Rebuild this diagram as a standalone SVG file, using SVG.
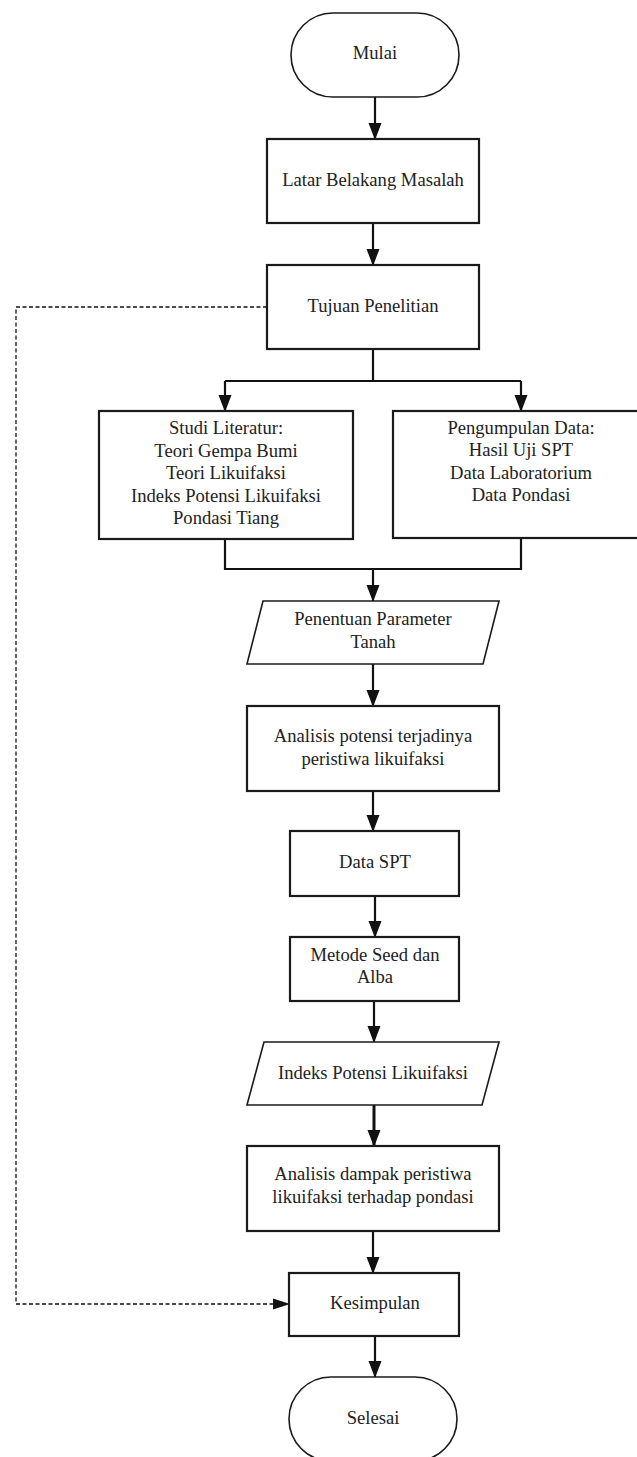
<svg xmlns="http://www.w3.org/2000/svg" width="637" height="1457" viewBox="0 0 637 1457">
<style>
.box{fill:#fff;stroke:#1a1a1a;stroke-width:2.2}
.term{fill:#fff;stroke:#1a1a1a;stroke-width:1.6}
.t{font-family:"Liberation Serif","Times New Roman",serif;font-size:18.6px;fill:#222;text-anchor:middle}
.c{fill:none;stroke:#111;stroke-width:2.2}
.d{fill:none;stroke:#111;stroke-width:1.3;stroke-dasharray:4 2.5}
</style>
<defs>
<marker id="ah" markerUnits="userSpaceOnUse" markerWidth="16" markerHeight="13" refX="16" refY="6.5" orient="auto" overflow="visible">
<path d="M0,0 L17,6.5 L0,13 z" fill="#111"/>
</marker>
<marker id="ahd" markerUnits="userSpaceOnUse" markerWidth="17" markerHeight="11" refX="16" refY="5.5" orient="auto" overflow="visible">
<path d="M0,0 L17,5.5 L0,11 z" fill="#111"/>
</marker>
</defs>
<rect width="637" height="1457" fill="#fff"/>
<g id="connectors">
<path class="c" d="M375,97 V139" marker-end="url(#ah)"/>
<path class="c" d="M373,223 V265" marker-end="url(#ah)"/>
<path class="c" d="M373,349 V381 M225,381 H521"/>
<path class="c" d="M225,381 V411" marker-end="url(#ah)"/>
<path class="c" d="M521,381 V411" marker-end="url(#ah)"/>
<path class="c" d="M225,539 V569 H521 V538"/>
<path class="c" d="M373,569 V601" marker-end="url(#ah)"/>
<path class="c" d="M373,664 V706" marker-end="url(#ah)"/>
<path class="c" d="M373,791 V831" marker-end="url(#ah)"/>
<path class="c" d="M375,896 V937" marker-end="url(#ah)"/>
<path class="c" d="M374,1001 V1042" marker-end="url(#ah)"/>
<path class="c" d="M374,1105 V1146" style="stroke-width:3" marker-end="url(#ah)"/>
<path class="c" d="M373,1231 V1273" marker-end="url(#ah)"/>
<path class="c" d="M375,1336 V1377" marker-end="url(#ah)"/>
<path class="d" d="M267,307 H16 V1304 H289" marker-end="url(#ahd)"/>
</g>
<g id="mulai">
<rect class="term" x="291" y="13" width="168" height="84" rx="42" ry="42"/>
<text class="t" x="375" y="59">Mulai</text>
</g>
<g id="latar">
<rect class="box" x="267" y="139" width="212" height="84"/>
<text class="t" x="373" y="186">Latar Belakang Masalah</text>
</g>
<g id="tujuan">
<rect class="box" x="267" y="265" width="212" height="84"/>
<text class="t" x="373" y="312">Tujuan Penelitian</text>
</g>
<g id="studi">
<rect class="box" x="99" y="411" width="254" height="128"/>
<text class="t" x="226" y="434">Studi Literatur:</text>
<text class="t" x="226" y="456.5">Teori Gempa Bumi</text>
<text class="t" x="226" y="479">Teori Likuifaksi</text>
<text class="t" x="226" y="501.5">Indeks Potensi Likuifaksi</text>
<text class="t" x="226" y="524">Pondasi Tiang</text>
</g>
<g id="pengumpulan">
<rect class="box" x="393" y="411" width="256" height="127"/>
<text class="t" x="521" y="433.5">Pengumpulan Data:</text>
<text class="t" x="521" y="456">Hasil Uji SPT</text>
<text class="t" x="521" y="478.5">Data Laboratorium</text>
<text class="t" x="521" y="501">Data Pondasi</text>
</g>
<g id="parameter">
<polygon class="box" style="stroke-width:1.6" points="263,601 499,601 483,664 247,664"/>
<text class="t" x="373" y="625">Penentuan Parameter</text>
<text class="t" x="373" y="647.5">Tanah</text>
</g>
<g id="analisis-potensi">
<rect class="box" x="247" y="706" width="252" height="85"/>
<text class="t" x="373" y="742">Analisis potensi terjadinya</text>
<text class="t" x="373" y="764.5">peristiwa likuifaksi</text>
</g>
<g id="data-spt">
<rect class="box" x="290" y="831" width="169" height="65"/>
<text class="t" x="375" y="868">Data SPT</text>
</g>
<g id="metode">
<rect class="box" x="290" y="937" width="169" height="64"/>
<text class="t" x="375" y="961">Metode Seed dan</text>
<text class="t" x="375" y="983">Alba</text>
</g>
<g id="indeks">
<polygon class="box" style="stroke-width:1.6" points="264,1042 499,1042 482,1105 247,1105"/>
<text class="t" x="373" y="1079">Indeks Potensi Likuifaksi</text>
</g>
<g id="analisis-dampak">
<rect class="box" x="247" y="1146" width="252" height="85"/>
<text class="t" x="373" y="1180">Analisis dampak peristiwa</text>
<text class="t" x="373" y="1203">likuifaksi terhadap pondasi</text>
</g>
<g id="kesimpulan">
<rect class="box" x="289" y="1273" width="170" height="63"/>
<text class="t" x="375" y="1309">Kesimpulan</text>
</g>
<g id="selesai">
<rect class="term" x="289" y="1377" width="168" height="84" rx="42" ry="42"/>
<text class="t" x="373" y="1424">Selesai</text>
</g>
</svg>
